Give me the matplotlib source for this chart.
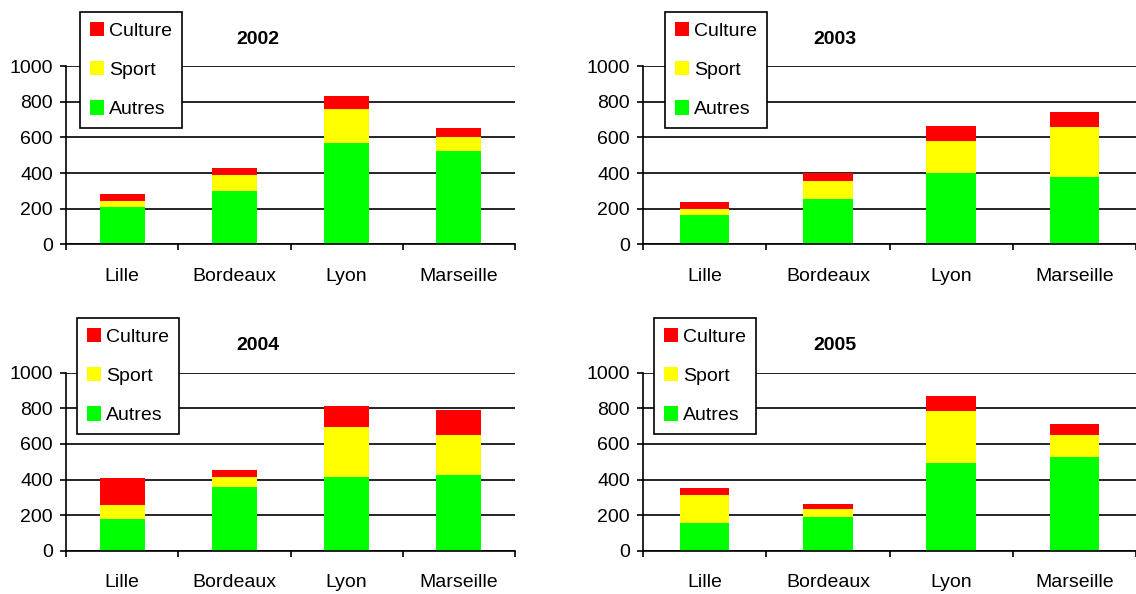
import numpy as np
import matplotlib.pyplot as plt

plt.rcParams['font.family'] = ['Liberation Sans', 'DejaVu Sans']

villes = ['Lille', 'Bordeaux', 'Lyon', 'Marseille']
annees = ['2002', '2003', '2004', '2005']

# values per year, order: Lille, Bordeaux, Lyon, Marseille
autres = {
    '2002': [210, 300, 569, 524],
    '2003': [165, 255, 401, 378],
    '2004': [178, 358, 414, 425],
    '2005': [155, 189, 492, 526],
}
sport = {
    '2002': [33, 90, 191, 79],
    '2003': [34, 101, 180, 281],
    '2004': [79, 56, 281, 225],
    '2005': [158, 45, 293, 124],
}
culture = {
    '2002': [40, 39, 73, 51],
    '2003': [39, 43, 84, 84],
    '2004': [151, 39, 118, 140],
    '2005': [39, 28, 84, 62],
}

W, H = 1136, 594
fig = plt.figure(figsize=(W / 100, H / 100), dpi=100)

# axes boxes in pixels: left, top, right, bottom
boxes = {
    '2002': (66, 66.3, 515, 244.3),
    '2003': (643, 66.3, 1136, 244.3),
    '2004': (66, 372.7, 515, 550.7),
    '2005': (643, 372.7, 1136, 550.7),
}
legend_pos = {'2002': (80, 12), '2003': (665, 12), '2004': (77, 318), '2005': (654, 318)}
title_pos = {'2002': (258, 40), '2003': (835, 40), '2004': (258, 346), '2005': (835, 346)}

x = np.arange(len(villes))
for an in annees:
    l, t, r, b = boxes[an]
    ax = fig.add_axes([l / W, 1 - b / H, (r - l) / W, (b - t) / H])
    a = np.array(autres[an])
    s = np.array(sport[an])
    c = np.array(culture[an])
    ax.set_axisbelow(True)
    ax.yaxis.grid(True, color='black', linewidth=1.2)
    b1 = ax.bar(x, a, width=0.4, color='#00ff00', label='Autres', zorder=2)
    b2 = ax.bar(x, s, width=0.4, bottom=a, color='#ffff00', label='Sport', zorder=2)
    b3 = ax.bar(x, c, width=0.4, bottom=a + s, color='#ff0000', label='Culture', zorder=2)

    ax.set_xlim(-0.5, 3.5)
    ax.set_ylim(0, 1000)
    ax.set_yticks([0, 200, 400, 600, 800, 1000])
    ax.set_xticks(np.arange(-0.5, 4, 1))
    ax.set_xticklabels([])
    ax.set_xticks(x, minor=True)
    ax.set_xticklabels(villes, minor=True)
    ax.tick_params(axis='x', which='minor', length=0, pad=17, labelsize=14)
    ax.tick_params(axis='x', which='major', length=4, width=1.2, direction='out')
    ax.tick_params(axis='y', length=4.5, width=1.2, pad=5, labelsize=14)
    for sp in ['top', 'right']:
        ax.spines[sp].set_visible(False)
    for sp in ['left', 'bottom']:
        ax.spines[sp].set_linewidth(1.2)

    lx, ly = legend_pos[an]
    leg = ax.legend(handles=[b3, b2, b1], loc='upper left',
                    bbox_to_anchor=(lx / W, 1 - ly / H), bbox_transform=fig.transFigure,
                    fontsize=14, frameon=True, fancybox=False, framealpha=1,
                    edgecolor='black', handlelength=0.75, handleheight=0.75,
                    handletextpad=0.25, labelspacing=1.1, borderpad=0.5,
                    borderaxespad=0)
    leg.get_frame().set_linewidth(1.2)

    tx, ty = title_pos[an]
    fig.text(tx / W, 1 - ty / H, an, ha='center', va='center',
             fontsize=14, fontweight='bold')

fig.savefig('out.png', dpi=100)
